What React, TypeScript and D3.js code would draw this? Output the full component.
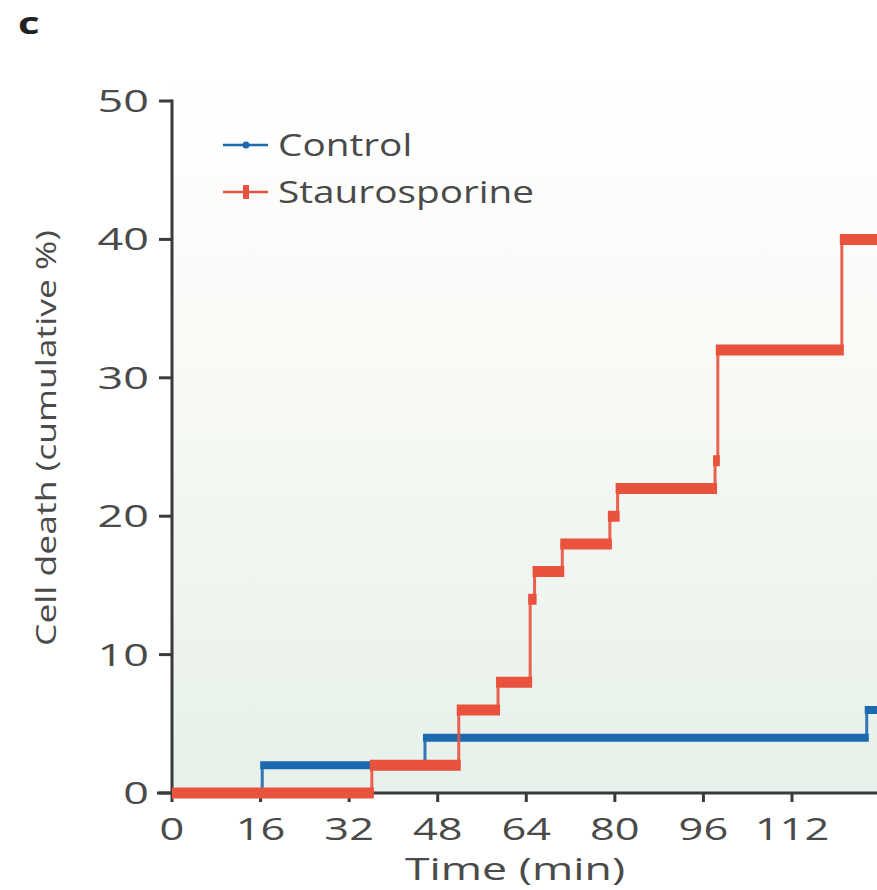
import React from "react";
import * as d3 from "d3";

// ---- Data ----
const X_TICKS = [0, 16, 32, 48, 64, 80, 96, 112];
const Y_TICKS = [0, 10, 20, 30, 40, 50];
const END_TIME = 128;

const controlTimes = [0, 16.3, 45.7, 125.5];
const controlLevels = [0, 2, 4, 6];

const stauroTimes = [0, 36.1, 51.8, 58.9, 64.7, 65.5, 70.5, 79.1, 80.5, 98.1, 98.6, 121.0];
const stauroLevels = [0, 2, 6, 8, 14, 16, 18, 20, 22, 24, 32, 40];

const SERIES = [
  { name: "Control", times: controlTimes, levels: controlLevels, color: "#1b6aad", thick: 8 },
  { name: "Staurosporine", times: stauroTimes, levels: stauroLevels, color: "#e9523c", thick: 11 },
];

const W = 877;
const H = 890;
const FONT = "'Open Sans', 'DejaVu Sans', sans-serif";
const TXT = "#4a4a4a";
const AXIS = "#3a3a3a";

export default function App() {
  const x = d3.scaleLinear().domain([0, 112]).range([172, 792]);
  const y = d3.scaleLinear().domain([0, 50]).range([793, 101]);

  const line = d3
    .line<[number, number]>()
    .x((d) => x(d[0]))
    .y((d) => y(d[1]))
    .curve(d3.curveStepAfter);

  const x0 = x(0);
  const yBase = y(0);

  return (
    <svg
      width={W}
      height={H}
      viewBox={`0 0 ${W} ${H}`}
      style={{ position: "absolute", left: 0, top: 0, display: "block", background: "#ffffff" }}
    >
      <defs>
        <linearGradient id="bg" x1="0" y1="0" x2="0" y2="1">
          <stop offset="0%" stopColor="#ffffff" />
          <stop offset="40%" stopColor="#f8faf6" />
          <stop offset="100%" stopColor="#e7f0ea" />
        </linearGradient>
      </defs>

      {/* panel background */}
      <rect x={x0} y={80} width={W - x0} height={yBase - 80} fill="url(#bg)" />

      {/* panel label */}
      <text
        transform={`translate(18,34) scale(1.35,1)`}
        fontFamily={FONT}
        fontWeight={700}
        fontSize={31}
        fill="#222"
      >
        c
      </text>

      {/* axes */}
      <g stroke={AXIS} strokeWidth={3} fill="none">
        <line x1={x0} x2={x0} y1={y(50) - 1.5} y2={yBase} />
        <line x1={157} x2={W} y1={yBase} y2={yBase} />
        {Y_TICKS.map((t) => (
          <line key={"yt" + t} x1={x0 - 13} x2={x0} y1={y(t)} y2={y(t)} />
        ))}
        {X_TICKS.map((t) => (
          <line key={"xt" + t} x1={x(t)} x2={x(t)} y1={yBase} y2={yBase + 9} />
        ))}
      </g>

      {/* tick labels */}
      <g fontFamily={FONT} fontSize={31} fill={TXT}>
        {Y_TICKS.map((t) => (
          <text
            key={"yl" + t}
            transform={`translate(149,${y(t) + 11}) scale(1.45,1)`}
            textAnchor="end"
          >
            {t}
          </text>
        ))}
        {X_TICKS.map((t) => (
          <text
            key={"xl" + t}
            transform={`translate(${x(t)},840) scale(1.4,1)`}
            textAnchor="middle"
          >
            {t}
          </text>
        ))}
      </g>

      {/* axis titles */}
      <text
        transform={`translate(515,880) scale(1.44,1)`}
        textAnchor="middle"
        fontFamily={FONT}
        fontSize={31}
        fill={TXT}
      >
        Time (min)
      </text>
      <text
        transform={`translate(56,438) rotate(-90) scale(1.27,1)`}
        textAnchor="middle"
        fontFamily={FONT}
        fontSize={28}
        fill={TXT}
      >
        Cell death (cumulative %)
      </text>

      {/* series */}
      {SERIES.map((s) => {
        const pts: [number, number][] = s.times.map((t, i) => [t, s.levels[i]]);
        pts.push([END_TIME, s.levels[s.levels.length - 1]]);
        const segs = s.times.map((t, i) => {
          const tEnd = i + 1 < s.times.length ? s.times[i + 1] : END_TIME;
          const xa = i === 0 ? x(t) : x(t) - 2;
          const xb = x(tEnd) + 2;
          return `M${xa},${y(s.levels[i])}H${xb}`;
        });
        return (
          <g key={s.name}>
            <path d={line(pts) || ""} fill="none" stroke={s.color} strokeWidth={3} opacity={0.9} />
            <path d={segs.join("")} fill="none" stroke={s.color} strokeWidth={s.thick} />
          </g>
        );
      })}

      {/* legend */}
      <g>
        {SERIES.map((s, i) => {
          const ly = 145 + i * 47;
          return (
            <g key={"lg" + s.name}>
              <line x1={223} x2={268} y1={ly} y2={ly} stroke={s.color} strokeWidth={2.5} />
              {i === 0 ? (
                <circle cx={246} cy={ly} r={3.5} fill={s.color} />
              ) : (
                <rect x={243} y={ly - 7} width={6} height={14} fill={s.color} />
              )}
              <text
                transform={`translate(278,${ly + 11}) scale(1.25,1)`}
                fontFamily={FONT}
                fontSize={31}
                fill={TXT}
              >
                {s.name}
              </text>
            </g>
          );
        })}
      </g>
    </svg>
  );
}
